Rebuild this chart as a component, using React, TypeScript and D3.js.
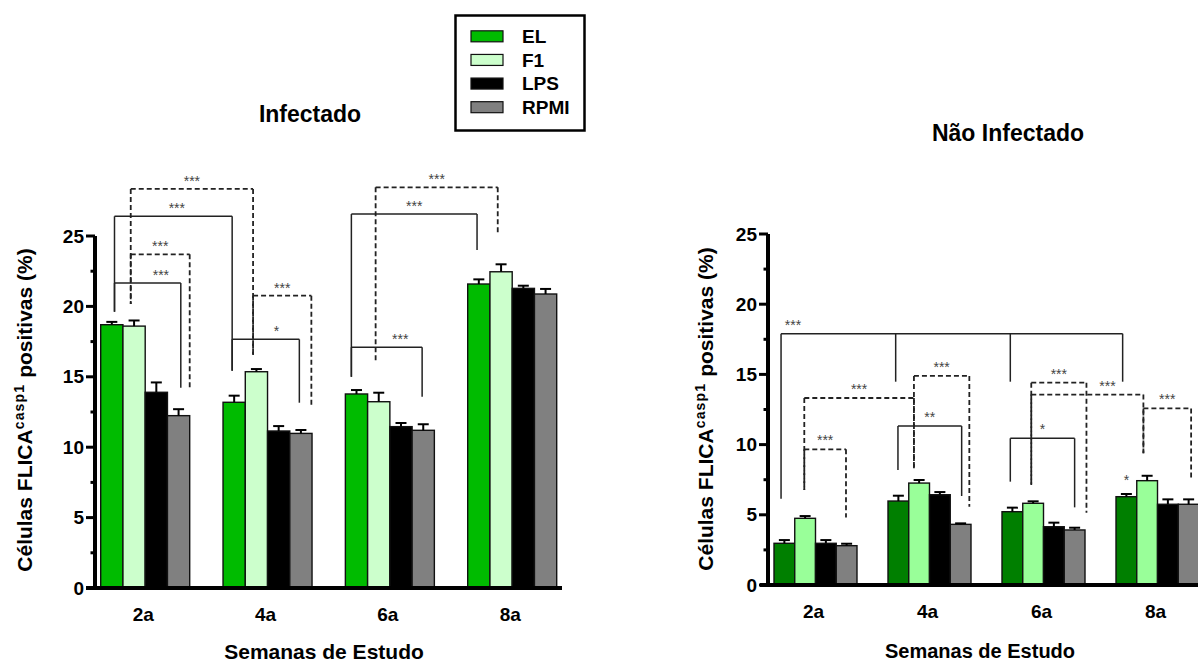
import React from 'react';
import * as d3 from 'd3';

// Study weeks and stimulation conditions
const groups = ['2a', '4a', '6a', '8a'];
const series = ['EL', 'F1', 'LPS', 'RPMI'];

// Infectado: mean % FLICA casp1 positive cells and SEM
const infEL = [18.7, 13.19, 13.78, 21.59];
const infF1 = [18.6, 15.36, 13.23, 22.46];
const infLPS = [13.9, 11.15, 11.46, 21.28];
const infRPMI = [12.24, 10.98, 11.2, 20.88];
const infELErr = [0.2, 0.47, 0.28, 0.33];
const infF1Err = [0.4, 0.19, 0.64, 0.53];
const infLPSErr = [0.7, 0.35, 0.26, 0.19];
const infRPMIErr = [0.46, 0.24, 0.43, 0.36];

// Não Infectado: mean % FLICA casp1 positive cells and SEM
const niEL = [2.97, 5.98, 5.22, 6.29];
const niF1 = [4.75, 7.26, 5.82, 7.43];
const niLPS = [2.97, 6.43, 4.15, 5.75];
const niRPMI = [2.8, 4.32, 3.92, 5.75];
const niELErr = [0.23, 0.38, 0.29, 0.19];
const niF1Err = [0.16, 0.22, 0.14, 0.35];
const niLPSErr = [0.23, 0.19, 0.29, 0.35];
const niRPMIErr = [0.14, 0.07, 0.16, 0.35];

const yTicks = [0, 5, 10, 15, 20, 25];

// Significance brackets: legs are [week index, bar offset within the week, bottom value]
type Leg = [number, number, number];
type Bracket = { label: string; dashed: boolean; y: number; legs: Leg[]; at?: number };

const infBrackets: Bracket[] = [
  { label: '***', dashed: true, y: 28.34, legs: [[0, 1.35, 20.17], [1, 1.35, 16.55]] },
  { label: '***', dashed: false, y: 26.4, legs: [[0, 0.62, 19.62], [1, 0.41, 15.43]], at: 0.53 },
  { label: '***', dashed: true, y: 23.7, legs: [[0, 1.35, 20.17], [0, 4.0, 14.23]] },
  { label: '***', dashed: false, y: 21.66, legs: [[0, 0.62, 19.62], [0, 3.6, 14.23]], at: 0.7 },
  { label: '***', dashed: true, y: 20.76, legs: [[1, 1.35, 16.55], [1, 3.97, 13.0]] },
  { label: '*', dashed: false, y: 17.66, legs: [[1, 0.41, 15.43], [1, 3.43, 13.16]], at: 0.66 },
  { label: '***', dashed: true, y: 28.46, legs: [[2, 1.36, 16.07], [3, 1.35, 25.23]] },
  { label: '***', dashed: false, y: 26.56, legs: [[2, 0.27, 15.0], [3, 0.42, 24.0]] },
  { label: '***', dashed: false, y: 17.1, legs: [[2, 0.27, 15.0], [2, 3.45, 13.59]], at: 0.69 },
];

const niBrackets: Bracket[] = [
  { label: '***', dashed: false, y: 17.9, legs: [[0, 0.34, 6.15], [1, 0.37, 14.48], [2, 0.4, 14.48], [3, 0.32, 14.48]], at: 0.035 },
  { label: '***', dashed: true, y: 13.32, legs: [[0, 1.46, 6.77], [1, 1.25, 8.31]] },
  { label: '***', dashed: true, y: 9.66, legs: [[0, 1.46, 6.77], [0, 3.47, 4.8]] },
  { label: '***', dashed: true, y: 14.89, legs: [[1, 1.25, 8.31], [1, 3.92, 5.58]] },
  { label: '**', dashed: false, y: 11.32, legs: [[1, 0.48, 8.19], [1, 3.55, 6.34]] },
  { label: '***', dashed: true, y: 14.41, legs: [[2, 1.41, 7.12], [2, 4.07, 5.15]] },
  { label: '***', dashed: true, y: 13.56, legs: [[2, 1.41, 7.12], [3, 1.32, 9.38]], at: 0.68 },
  { label: '***', dashed: true, y: 12.58, legs: [[3, 1.32, 9.38], [3, 3.62, 7.53]] },
  { label: '*', dashed: false, y: 10.45, legs: [[2, 0.4, 7.36], [2, 3.5, 5.53]] },
];

// Single-bar marks: [week index, series index, baseline value]
const niMarks: [number, number, number, string][] = [[3, 0, 7.1, '*']];

const FONT = '"Liberation Sans", Arial, Helvetica, sans-serif';

const infColors = ['#00bb00', '#ccffcc', '#000000', '#808080'];
const niColors = ['#007f00', '#99ff99', '#000000', '#808080'];

type PanelProps = {
  title: string;
  titleX: number;
  titleY: number;
  x0: number;
  x1: number;
  padInner: number;
  padOuter: number;
  y0: number;
  y25: number;
  axisStart: number;
  axisEnd: number;
  colors: string[];
  values: number[][];
  errors: number[][];
  brackets: Bracket[];
  marks?: [number, number, number, string][];
  yTitleX: number;
  yTitleCenter: number;
  xTickY: number;
  xTitleY: number;
  xTitleSize: number;
  labelGap: number;
};

function Panel(p: PanelProps) {
  const x = d3.scaleBand<string>().domain(groups).range([p.x0, p.x1]).paddingInner(p.padInner).paddingOuter(p.padOuter);
  const inner = d3.scaleBand<string>().domain(series).range([0, x.bandwidth()]);
  const y = d3.scaleLinear().domain([0, 25]).range([p.y0, p.y25]);
  const bw = inner.bandwidth();
  const legX = (g: number, pos: number) => (x(groups[g]) as number) + pos * bw;
  const minor = d3.range(2.5, 25, 5);
  const axisX = p.x0;

  return (
    <g fontFamily={FONT}>
      <text x={p.titleX} y={p.titleY} textAnchor="middle" fontSize={23} fontWeight="bold">{p.title}</text>

      {/* bars */}
      {groups.map((g, gi) =>
        series.map((s, si) => {
          const v = p.values[si][gi];
          return (
            <rect key={g + s} x={(x(g) as number) + (inner(s) as number)} y={y(v)} width={bw} height={y(0) - y(v)}
              fill={p.colors[si]} stroke="#111" strokeWidth={1.4} />
          );
        })
      )}

      {/* error bars (upper SEM) */}
      {groups.map((g, gi) =>
        series.map((s, si) => {
          const v = p.values[si][gi];
          const e = p.errors[si][gi];
          const cx = (x(g) as number) + (inner(s) as number) + bw / 2;
          return (
            <g key={'e' + g + s} stroke="#000" strokeWidth={2}>
              <line x1={cx} x2={cx} y1={y(v)} y2={y(v + e)} />
              <line x1={cx - 5.5} x2={cx + 5.5} y1={y(v + e)} y2={y(v + e)} />
            </g>
          );
        })
      )}

      {/* significance brackets */}
      {p.brackets.map((b, i) => {
        const xs = b.legs.map((l) => legX(l[0], l[1]));
        const lx0 = Math.min(...xs);
        const lx1 = Math.max(...xs);
        const yy = y(b.y);
        const at = b.at ?? 0.5;
        return (
          <g key={'b' + i}>
            <g stroke="#222" strokeWidth={b.dashed ? 1.8 : 1.5} strokeDasharray={b.dashed ? '5 3' : undefined} fill="none">
              <line x1={lx0} x2={lx1} y1={yy} y2={yy} />
              {b.legs.map((l, j) => (
                <line key={j} x1={xs[j]} x2={xs[j]} y1={yy} y2={y(l[2])} />
              ))}
            </g>
            <text x={lx0 + (lx1 - lx0) * at} y={yy - p.labelGap} textAnchor="middle" fontSize={14} fill="#444">{b.label}</text>
          </g>
        );
      })}

      {(p.marks || []).map((m, i) => (
        <text key={'m' + i} x={(x(groups[m[0]]) as number) + (inner(series[m[1]]) as number) + bw / 2} y={y(m[2])}
          textAnchor="middle" fontSize={14} fill="#444">{m[3]}</text>
      ))}

      {/* y axis */}
      <line x1={axisX} x2={axisX} y1={y(0)} y2={y(25)} stroke="#000" strokeWidth={4} />
      {yTicks.map((t) => (
        <g key={'t' + t}>
          <line x1={axisX - 9} x2={axisX} y1={y(t)} y2={y(t)} stroke="#000" strokeWidth={3} />
          <text x={axisX - 11} y={y(t)} dy="0.35em" textAnchor="end" fontSize={19} fontWeight="bold">{t}</text>
        </g>
      ))}
      {minor.map((t) => (
        <line key={'mn' + t} x1={axisX - 4.5} x2={axisX} y1={y(t)} y2={y(t)} stroke="#000" strokeWidth={3} />
      ))}

      {/* x axis */}
      <line x1={p.axisStart} x2={p.axisEnd} y1={y(0)} y2={y(0)} stroke="#000" strokeWidth={4} />
      {groups.map((g) => (
        <text key={'x' + g} x={(x(g) as number) + x.bandwidth() / 2 - 2} y={p.xTickY} textAnchor="middle" fontSize={19} fontWeight="bold">{g}</text>
      ))}
      <text x={(p.axisStart + p.axisEnd) / 2} y={p.xTitleY} textAnchor="middle" fontSize={p.xTitleSize} fontWeight="bold">Semanas de Estudo</text>

      {/* y axis title */}
      <text transform={`translate(${p.yTitleX},${p.yTitleCenter}) rotate(-90)`} textAnchor="middle" fontSize={21} fontWeight="bold">
        Células FLICA
        <tspan fontSize={14} dy={-8} letterSpacing={1.2}>casp1</tspan>
        <tspan dy={8}> positivas (%)</tspan>
      </text>
    </g>
  );
}

function Legend() {
  const ly = d3.scaleBand<string>().domain(series).range([24.5, 119]);
  return (
    <g fontFamily={FONT}>
      <rect x={455.5} y={15.5} width={129} height={115} fill="#fff" stroke="#000" strokeWidth={2.5} />
      {series.map((s, i) => {
        const cy = (ly(s) as number) + ly.bandwidth() / 2;
        return (
          <g key={s}>
            <rect x={471} y={cy - 5.5} width={32} height={11} fill={infColors[i]} stroke="#111" strokeWidth={1.2} />
            <text x={522} y={cy} dy="0.36em" fontSize={19} fontWeight="bold">{s}</text>
          </g>
        );
      })}
    </g>
  );
}

export default function App() {
  return (
    <svg width={1198} height={664} style={{ position: 'absolute', left: 0, top: 0, background: '#fff' }}>
      <rect width={1198} height={664} fill="#fff" />
      <Panel
        title="Infectado" titleX={310} titleY={122}
        x0={95} x1={562.4} padInner={0.2725} padOuter={0.0466}
        y0={588} y25={236} axisStart={86} axisEnd={562}
        colors={infColors}
        values={[infEL, infF1, infLPS, infRPMI]}
        errors={[infELErr, infF1Err, infLPSErr, infRPMIErr]}
        brackets={infBrackets}
        yTitleX={32} yTitleCenter={410}
        xTickY={621} xTitleY={659} xTitleSize={21} labelGap={3}
      />
      <Panel
        title="Não Infectado" titleX={1008} titleY={141}
        x0={768} x1={1205} padInner={0.272} padOuter={0.0526}
        y0={585} y25={234} axisStart={760} axisEnd={1200}
        colors={niColors}
        values={[niEL, niF1, niLPS, niRPMI]}
        errors={[niELErr, niF1Err, niLPSErr, niRPMIErr]}
        brackets={niBrackets}
        marks={niMarks}
        yTitleX={713} yTitleCenter={409}
        xTickY={618} xTitleY={658} xTitleSize={20} labelGap={4}
      />
      <Legend />
    </svg>
  );
}
